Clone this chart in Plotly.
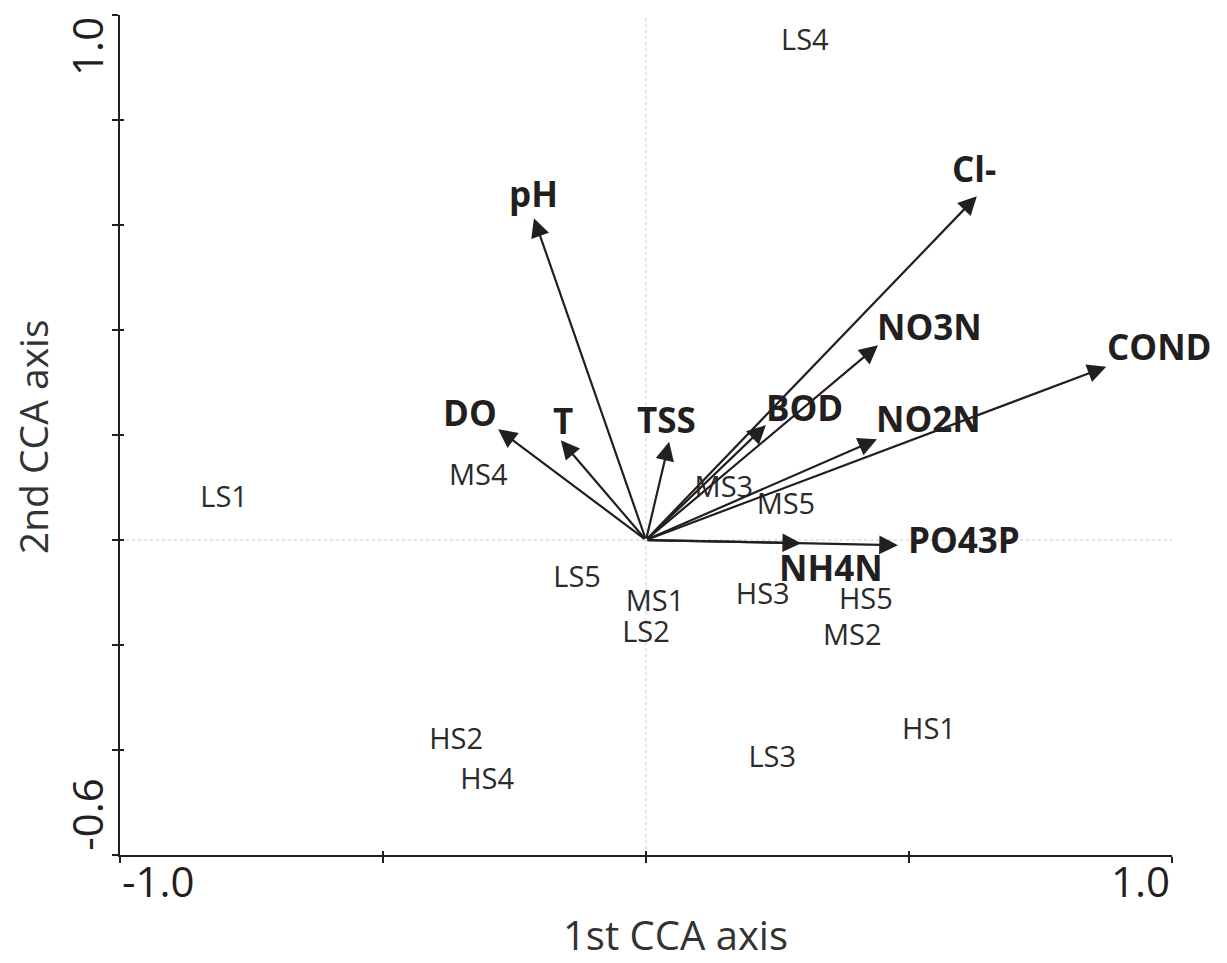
import plotly.graph_objects as go

# ---- data ----
env_names = ["pH", "DO", "T", "TSS", "BOD", "NO3N", "Cl-", "COND", "NO2N", "NH4N", "PO43P"]
env_x = [-0.213, -0.281, -0.162, 0.044, 0.228, 0.441, 0.629, 0.875, 0.439, 0.295, 0.479]
env_y = [0.613, 0.211, 0.190, 0.187, 0.219, 0.371, 0.655, 0.330, 0.192, -0.006, -0.010]
# label offsets from arrow tips (pixels)
env_label_dx = [0, -28, 2, -3, 39, 52, -3, 53, 52, 30, 66]
env_label_dy = [25, 17, 20, 22, 18, 19, 28, 20, 21, -24, 6]

site_names = ["LS4", "LS1", "MS4", "MS3", "MS5", "LS5", "MS1", "LS2", "HS3", "HS5",
              "MS2", "HS2", "HS4", "LS3", "HS1"]
site_x = [0.302, -0.802, -0.319, 0.148, 0.266, -0.131, 0.017, 0.000, 0.222, 0.418,
          0.392, -0.361, -0.302, 0.240, 0.538]
site_y = [0.947, 0.076, 0.118, 0.095, 0.063, -0.076, -0.122, -0.181, -0.109, -0.118,
          -0.187, -0.385, -0.461, -0.419, -0.366]

x_range = [-1.0, 1.0]
y_range = [-0.6, 1.0]
x_ticks = [-1.0, -0.5, 0.0, 0.5, 1.0]
y_ticks = [-0.6, -0.4, -0.2, 0.0, 0.2, 0.4, 0.6, 0.8, 1.0]
x_title = "1st CCA axis"
y_title = "2nd CCA axis"

FONT = "Open Sans"
INK = "#231f20"

fig = go.Figure()

fig.add_trace(go.Scatter(
    x=site_x, y=site_y, text=site_names, mode="text",
    textposition="middle center",
    textfont=dict(family=FONT, size=29, color="#2b2b2b"),
    showlegend=False, hoverinfo="skip",
))
# helper trace for overlay axes (inside tick halves)
fig.add_trace(go.Scatter(x=[None], y=[None], xaxis="x2", yaxis="y2",
                         showlegend=False, hoverinfo="skip"))

annotations = []
for name, x, y, dx, dy in zip(env_names, env_x, env_y, env_label_dx, env_label_dy):
    annotations.append(dict(
        x=x, y=y, ax=0, ay=0, xref="x", yref="y", axref="x", ayref="y",
        text="", showarrow=True, arrowhead=2, arrowsize=1.7, arrowwidth=2.2,
        arrowcolor=INK, standoff=0, startstandoff=0,
    ))
    annotations.append(dict(
        x=x, y=y, xref="x", yref="y", text="<b>" + name + "</b>", showarrow=False,
        xshift=dx, yshift=dy, xanchor="center", yanchor="middle",
        font=dict(family=FONT, size=35, color=INK),
    ))

# axis end labels
annotations += [
    dict(x=0, y=-0.0298, xref="paper", yref="paper", text=f"{x_range[0]:.1f}",
         showarrow=False, xanchor="left", yanchor="middle",
         font=dict(family=FONT, size=42, color=INK)),
    dict(x=1.0, y=-0.0298, xref="paper", yref="paper", text=f"{x_range[1]:.1f}",
         showarrow=False, xanchor="right", yanchor="middle",
         font=dict(family=FONT, size=42, color=INK)),
    dict(x=-0.0325, y=0.963, xref="paper", yref="paper", text=f"{y_range[1]:.1f}",
         showarrow=False, xanchor="center", yanchor="middle", textangle=-90,
         font=dict(family=FONT, size=42, color=INK)),
    dict(x=-0.0325, y=0.0488, xref="paper", yref="paper", text=f"{y_range[0]:.1f}",
         showarrow=False, xanchor="center", yanchor="middle", textangle=-90,
         font=dict(family=FONT, size=42, color=INK)),
    dict(x=0.5276, y=-0.0952, xref="paper", yref="paper", text=x_title,
         showarrow=False, xanchor="center", yanchor="middle",
         font=dict(family=FONT, size=40, color="#333333")),
    dict(x=-0.0835, y=0.4976, xref="paper", yref="paper", text=y_title,
         showarrow=False, xanchor="center", yanchor="middle", textangle=-90,
         font=dict(family=FONT, size=39, color="#333333")),
]

shapes = [
    dict(type="line", xref="x", yref="paper", x0=0, x1=0, y0=0, y1=1,
         line=dict(color="#c8c8c8", width=1, dash="dot"), layer="below"),
    dict(type="line", xref="paper", yref="y", x0=0, x1=1, y0=0, y1=0,
         line=dict(color="#c8c8c8", width=1, dash="dot"), layer="below"),
]

axis_common = dict(showgrid=False, zeroline=False, showline=True, linecolor=INK,
                   linewidth=2, ticks="outside", ticklen=6, tickwidth=2,
                   tickcolor=INK, showticklabels=False, fixedrange=True)

# the page body has an 8px margin, so the figure is sized to fit the window
fig.update_layout(
    width=1219, height=955,
    margin=dict(l=112, r=55, t=7, b=108),
    paper_bgcolor="white", plot_bgcolor="white",
    font=dict(family=FONT, color=INK),
    xaxis=dict(range=x_range, tickvals=x_ticks, anchor="y", **axis_common),
    yaxis=dict(range=y_range, tickvals=y_ticks, anchor="x", **axis_common),
    xaxis2=dict(range=x_range, tickvals=x_ticks, overlaying="x", anchor="y2", side="bottom",
                showgrid=False, zeroline=False, showline=False, ticks="inside",
                ticklen=4, tickwidth=2, tickcolor=INK, showticklabels=False),
    yaxis2=dict(range=y_range, tickvals=y_ticks, overlaying="y", anchor="x2", side="left",
                showgrid=False, zeroline=False, showline=False, ticks="inside",
                ticklen=4, tickwidth=2, tickcolor=INK, showticklabels=False),
    annotations=annotations,
    shapes=shapes,
    showlegend=False,
)

fig.write_html("out.html")
